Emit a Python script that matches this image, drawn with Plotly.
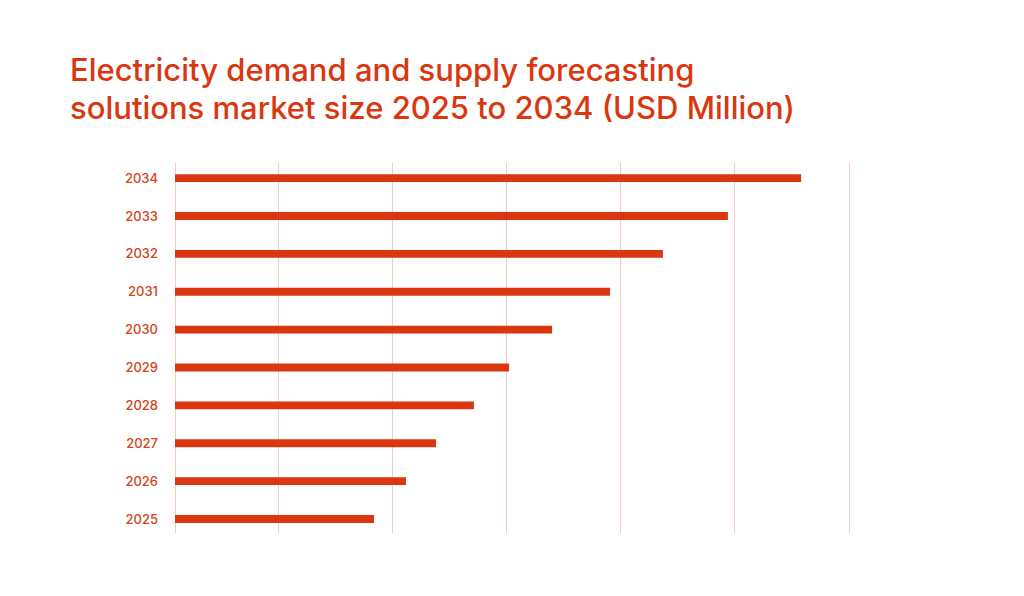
import plotly.graph_objects as go

years = ["2025", "2026", "2027", "2028", "2029", "2030", "2031", "2032", "2033", "2034"]
market_size = [873, 1013, 1145, 1311, 1465, 1654, 1908, 2140, 2425, 2746]
grid_values = [0, 456, 956, 1456, 1956, 2456, 2956]
title_lines = ["Electricity demand and supply forecasting",
               "solutions market size 2025 to 2034 (USD Million)"]

ORANGE = "#DA3710"
TEXT = "#D4431A"
GRID = "#EDCFC6"
FONT = "Inter, Lato, sans-serif"

PAD = 5  # px of padding on each side of the x range so edge gridlines show
units_per_px = (grid_values[-1] - grid_values[0]) / 674
xr = [grid_values[0] - PAD * units_per_px, grid_values[-1] + PAD * units_per_px]
plot_w = 674 + 2 * PAD

fig = go.Figure(go.Bar(
    x=market_size,
    y=years,
    orientation="h",
    marker=dict(color=ORANGE, line=dict(width=0)),
    width=0.21,
    hoverinfo="x+y",
))

annotations = []
for i, line in enumerate(title_lines):
    annotations.append(dict(
        text=line, showarrow=False,
        xref="paper", yref="paper",
        x=(68 - (175 - PAD)) / plot_w, xanchor="left",
        y=(596 - 63 - (70 + 37.5 * i)) / 370, yanchor="middle",
        font=dict(family=FONT, size=31, color=ORANGE, weight=500),
    ))

fig.update_layout(
    width=1024,
    height=596,
    paper_bgcolor="white",
    plot_bgcolor="white",
    margin=dict(l=175 - PAD, r=175 - PAD, t=163, b=63),
    showlegend=False,
    annotations=annotations,
)

fig.update_xaxes(
    range=xr,
    tickvals=grid_values,
    showticklabels=False,
    showgrid=True,
    gridcolor=GRID,
    gridwidth=1,
    zeroline=False,
    showline=False,
    fixedrange=True,
)

fig.update_yaxes(
    categoryorder="array",
    categoryarray=years,
    range=[-0.37, 9.4],
    showgrid=False,
    zeroline=False,
    showline=False,
    ticks="",
    ticklabelstandoff=16 - PAD,
    tickfont=dict(family=FONT, size=13, color=TEXT, weight=500),
    fixedrange=True,
)

fig.write_html("out.html")
